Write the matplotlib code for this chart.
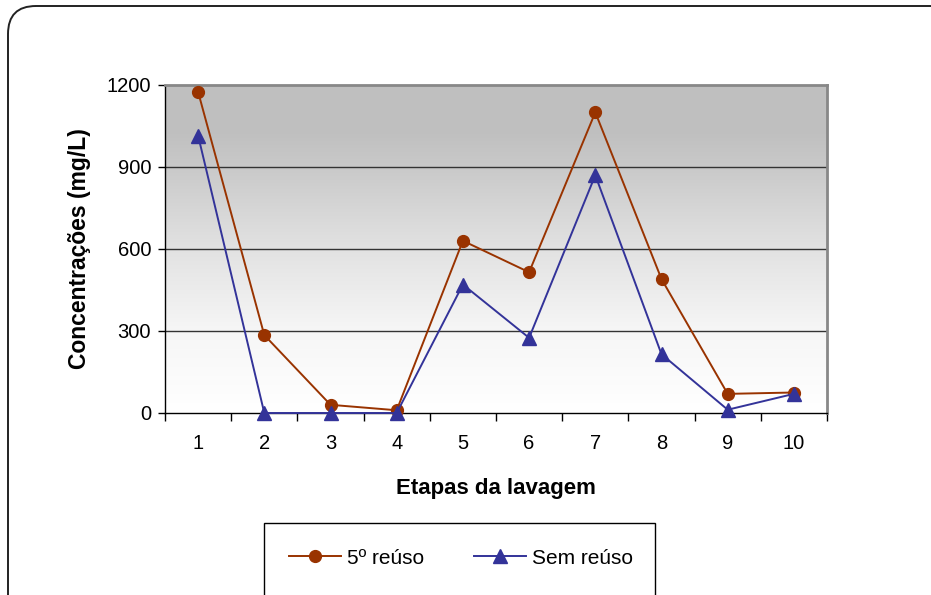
import matplotlib
matplotlib.use("Agg")
import matplotlib.pyplot as plt
import numpy as np
from matplotlib.patches import FancyBboxPatch, Rectangle
from matplotlib.colors import LinearSegmentedColormap

plt.rcParams['font.family'] = ['Liberation Sans', 'DejaVu Sans']

etapas = [1, 2, 3, 4, 5, 6, 7, 8, 9, 10]
reuso_5 = [1175, 285, 30, 10, 630, 515, 1100, 490, 70, 75]
sem_reuso = [1015, 0, 0, 0, 470, 275, 870, 215, 12, 70]
y_ticks = [0, 300, 600, 900, 1200]

W, H = 931, 595
fig = plt.figure(figsize=(W / 100, H / 100), dpi=100)

# background canvas in pixel units for the rounded outer frame and legend box
bg = fig.add_axes([0, 0, 1, 1], zorder=-5)
bg.set_xlim(0, W)
bg.set_ylim(H, 0)
bg.axis('off')
bg.add_patch(FancyBboxPatch((8, 6), 950, 620, boxstyle="round,pad=0,rounding_size=28",
                            fc='white', ec='#222222', lw=1.4))
bg.add_patch(Rectangle((264, 523), 391, 90, fc='white', ec='black', lw=1.0))

ax = fig.add_axes([165 / W, 1 - 413 / H, (827 - 165) / W, (413 - 85) / H])

# vertical grey-to-white gradient behind the plot
grad_cmap = LinearSegmentedColormap.from_list(
    "bg", [(0.0, '#ffffff'), (0.25, '#f6f6f6'), (0.5, '#e2e2e2'),
           (0.75, '#c9c9c9'), (0.85, '#c0c0c0'), (1.0, '#bfbfbf')])
grad = np.linspace(0, 1, 256).reshape(-1, 1)
ax.imshow(grad, cmap=grad_cmap, aspect='auto', origin='lower',
          extent=[0.5, 10.5, 0, 1200], zorder=0)

ax.set_xlim(0.5, 10.5)
ax.set_ylim(0, 1200)

for v in y_ticks[1:-1]:
    ax.axhline(v, color='#333333', lw=1.0, zorder=1)

ax.plot(etapas, reuso_5, color='#993300', lw=1.4, marker='o', markersize=8.5,
        markerfacecolor='#993300', markeredgecolor='#993300', zorder=3, label='5º reúso',
        clip_on=False)
ax.plot(etapas, sem_reuso, color='#333399', lw=1.4, marker='^', markersize=10,
        markerfacecolor='#333399', markeredgecolor='#333399', zorder=4, label='Sem reúso',
        clip_on=False)

ax.set_yticks(y_ticks)
ax.set_xticks(etapas)
ax.set_xticks(np.arange(0.5, 11, 1), minor=True)
ax.tick_params(axis='x', which='major', length=0, pad=15, labelsize=14.5)
ax.tick_params(axis='x', which='minor', length=6, direction='out', width=1)
ax.tick_params(axis='y', length=5, direction='out', width=1, pad=5, labelsize=14.5)

for s in ['top', 'right']:
    ax.spines[s].set_color('#888888')
    ax.spines[s].set_linewidth(2)
for s in ['left', 'bottom']:
    ax.spines[s].set_color('black')
    ax.spines[s].set_linewidth(1)

ax.set_ylabel('Concentrações (mg/L)', fontsize=16.5, fontweight='bold', labelpad=11)
ax.set_xlabel('Etapas da lavagem', fontsize=16, fontweight='bold', labelpad=18)

fig.legend(loc='center', bbox_to_anchor=(461 / W, 1 - 558 / H), ncol=2, frameon=False,
           fontsize=15, handlelength=2.5, handletextpad=0.3, columnspacing=2.4)

fig.savefig('out.png', dpi=100)
